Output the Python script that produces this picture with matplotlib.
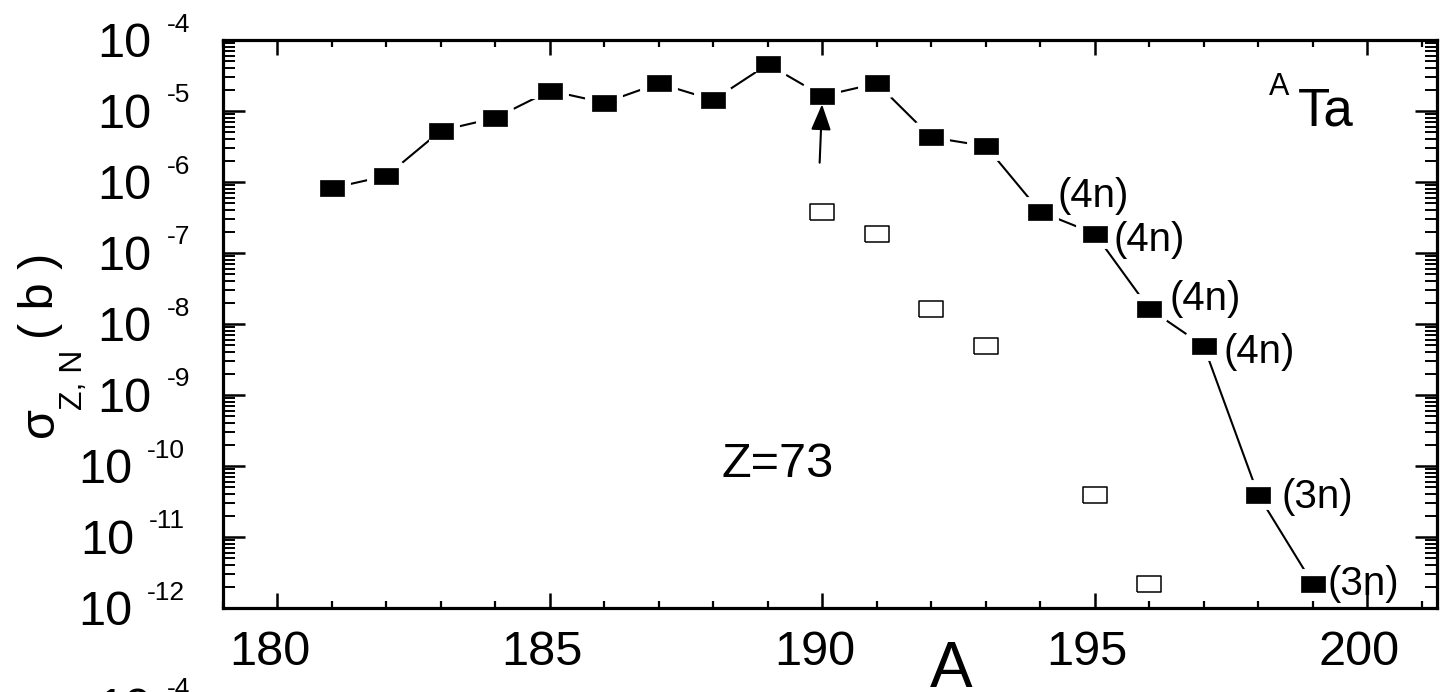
import numpy as np
import matplotlib
matplotlib.use("Agg")
import matplotlib.pyplot as plt
from matplotlib.ticker import MultipleLocator, LogLocator, NullFormatter
from matplotlib.transforms import blended_transform_factory, ScaledTranslation

plt.rcParams['font.family'] = ['Liberation Sans', 'DejaVu Sans']

# Ta isotopic cross sections (filled) and the parent-assigned ones (open)
mass = [181, 182, 183, 184, 185, 186, 187, 188, 189, 190,
        191, 192, 193, 194, 195, 196, 197, 198, 199]
sigma = [8.2e-7, 1.22e-6, 5.3e-6, 8.0e-6, 1.93e-5, 1.31e-5, 2.45e-5, 1.43e-5, 4.55e-5, 1.63e-5,
         2.45e-5, 4.26e-6, 3.2e-6, 3.8e-7, 1.87e-7, 1.64e-8, 4.9e-9, 3.9e-11, 2.2e-12]
open_mass = [190, 191, 192, 193, 195, 196]
open_sigma = [3.8e-7, 1.87e-7, 1.64e-8, 4.9e-9, 3.9e-11, 2.2e-12]

channel_mass = [194, 195, 196, 197, 198, 199]
channel_text = ['(4n)', '(4n)', '(4n)', '(4n)', '(3n)', '(3n)']
# label offsets from each point, in pixels (right, down)
channel_dx = [17, 19, 20, 20, 23, 15]
channel_dy = [-5, 17, 1, 17, 13, 11]

x_major = [180, 185, 190, 195, 200]
y_exponents = [-12, -11, -10, -9, -8, -7, -6, -5, -4]

PX = 0.72  # points per pixel at dpi 100

fig = plt.figure(figsize=(14.41, 6.92), dpi=100)
ax = fig.add_axes([223 / 1441, 84 / 692, 1214 / 1441, 568 / 692])

# rectangular marker, a bit wider than tall
rect = [(-1, -0.73), (1, -0.73), (1, 0.73), (-1, 0.73), (-1, -0.73)]

ax.plot(mass, sigma, '-', color='k', lw=1.5, zorder=2)
# white halo so the connecting line stops short of each square
ax.plot(mass, sigma, ls='none', marker=rect, ms=16.6, mfc='white', mec='white',
        mew=10, zorder=3)
ax.plot(mass, sigma, ls='none', marker=rect, ms=16.6, mfc='k', mec='k', mew=0.5, zorder=4)
ax.plot(open_mass, open_sigma, ls='none', marker=rect, ms=16.6, mfc='white', mec='k',
        mew=1.1, zorder=4)

ax.set_yscale('log')
ax.set_xlim(179.0, 201.28)
ax.set_ylim(1e-12, 1e-4)

ax.xaxis.set_major_locator(MultipleLocator(5))
ax.xaxis.set_minor_locator(MultipleLocator(1))
ax.yaxis.set_major_locator(LogLocator(base=10, numticks=20))
ax.yaxis.set_minor_locator(LogLocator(base=10, subs=np.arange(2, 10), numticks=100))
ax.yaxis.set_major_formatter(NullFormatter())
ax.yaxis.set_minor_formatter(NullFormatter())

ax.tick_params(which='both', direction='in', top=True, right=True)
ax.tick_params(axis='x', which='major', length=10.8, width=1.8, labelsize=35, pad=15.5)
ax.tick_params(axis='x', which='minor', length=5, width=1.6)
ax.tick_params(axis='y', which='major', length=16, width=1.8)
ax.tick_params(axis='y', which='minor', length=8.5, width=1.4)
for s in ax.spines.values():
    s.set_linewidth(2.3)

ax.set_xticks(x_major)
ax.set_xticklabels([str(v) for v in x_major])
shift = ScaledTranslation(-8 / 100, 0, fig.dpi_scale_trans)
for lab in ax.get_xticklabels():
    lab.set_transform(lab.get_transform() + shift)

# y tick labels drawn as "10" with a small raised exponent
renderer = fig.canvas.get_renderer()


def power_label(trans_y, value, exponent):
    tr = blended_transform_factory(fig.dpi_scale_trans, trans_y)
    right = 1.90 if exponent > -10 else 1.85
    ex = ax.text(right, value, '-%d' % abs(exponent),
                 transform=tr + ScaledTranslation(0, 8.5 / 100, fig.dpi_scale_trans),
                 ha='right', va='baseline', fontsize=19, clip_on=False)
    left = ex.get_window_extent(renderer).x0
    ax.text((left - 15) / 100, value, '10',
            transform=tr + ScaledTranslation(0, -17.4 / 100, fig.dpi_scale_trans),
            ha='right', va='baseline', fontsize=35, clip_on=False)


for e in y_exponents:
    power_label(ax.transData, 10.0 ** e, e)
# label of the panel below, cut by the lower edge
power_label(fig.dpi_scale_trans, (692 - 705) / 100, -4)

# axis titles
fig.text(0.53, (692 - 422) / 100, '\u03c3', rotation=90, rotation_mode='anchor',
         ha='center', va='baseline', fontsize=35, transform=fig.dpi_scale_trans)
fig.text(0.82, (692 - 380) / 100, 'Z, N', rotation=90, rotation_mode='anchor',
         ha='center', va='baseline', fontsize=23, transform=fig.dpi_scale_trans)
fig.text(0.53, (692 - 296) / 100, '( b )', rotation=90, rotation_mode='anchor',
         ha='center', va='baseline', fontsize=35, transform=fig.dpi_scale_trans)
fig.text(9.51, (692 - 687) / 100, 'A', ha='center', va='baseline', fontsize=46,
         transform=fig.dpi_scale_trans)

# reaction channel labels
for m, t, dx, dy in zip(channel_mass, channel_text, channel_dx, channel_dy):
    s = sigma[mass.index(m)]
    ax.annotate(t, xy=(m, s), xytext=(dx * PX, -dy * PX), textcoords='offset points',
                ha='left', va='baseline', fontsize=29)

ax.text(188.15, 7.0e-11, 'Z=73', ha='left', va='baseline', fontsize=35)
ax.text(198.73, 6.35e-6, 'Ta', ha='left', va='baseline', fontsize=38)
ax.text(198.2, 1.68e-5, 'A', ha='left', va='baseline', fontsize=22)

# arrow pointing at A=190
s190 = sigma[mass.index(190)]
ax.annotate('', xy=(190, s190), xytext=(189.95, 1.87e-6),
            arrowprops=dict(arrowstyle='-|>,head_length=1.58,head_width=0.61',
                            mutation_scale=10, lw=1.5, color='k',
                            shrinkA=0, shrinkB=6), zorder=5)

fig.savefig('out.png', dpi=100)
